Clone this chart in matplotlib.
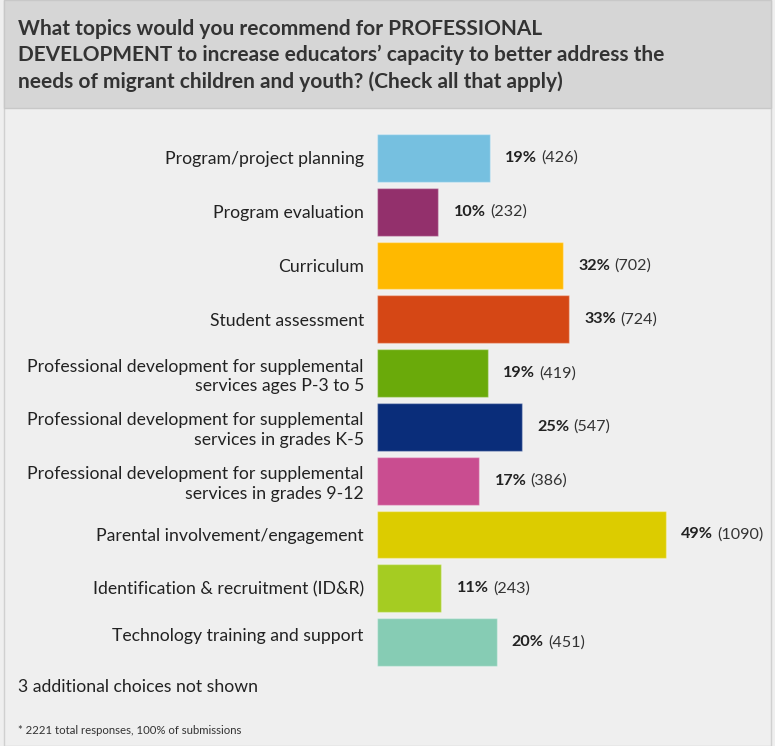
import matplotlib.pyplot as plt
from matplotlib.patches import Rectangle

categories = [
    "Program/project planning",
    "Program evaluation",
    "Curriculum",
    "Student assessment",
    "Professional development for supplemental\nservices ages P-3 to 5",
    "Professional development for supplemental\nservices in grades K-5",
    "Professional development for supplemental\nservices in grades 9-12",
    "Parental involvement/engagement",
    "Identification & recruitment (ID&R)",
    "Technology training and support\n ",
]
percents = [19, 10, 32, 33, 19, 25, 17, 49, 11, 20]
counts = [426, 232, 702, 724, 419, 547, 386, 1090, 243, 451]
colors = ["#76c0e0", "#93306c", "#ffb900", "#d54715", "#6aaa0a",
          "#0a2d7a", "#c94d90", "#dccc00", "#a5cc22", "#86ccb4"]

title = ("What topics would you recommend for PROFESSIONAL\n"
         "DEVELOPMENT to increase educators\u2019 capacity to better address the\n"
         "needs of migrant children and youth? (Check all that apply)")

W, H = 775, 746
plt.rcParams['font.family'] = ['Lato', 'DejaVu Sans']
fig = plt.figure(figsize=(W / 100, H / 100), dpi=100)
fig.patch.set_facecolor("#efefef")

# header box and frame
fig.patches.append(Rectangle((4 / W, 0), (W - 8) / W, 1, transform=fig.transFigure,
                             facecolor="#efefef", edgecolor="#d0d0d0", lw=1, zorder=-2))
fig.patches.append(Rectangle((4 / W, 1 - 108 / H), (W - 8) / W, 108 / H,
                             transform=fig.transFigure, facecolor="#d6d6d6",
                             edgecolor="#c8c8c8", lw=1, zorder=-1))
fig.text(18 / W, 1 - 19 / H, title, fontsize=15, fontweight="bold", color="#333333",
         va="top", ha="left", linespacing=1.38)

# axes in pixel layout
left, right = 377, 748
top, bottom = 131, 669
ax = fig.add_axes([left / W, 1 - bottom / H, (right - left) / W, (bottom - top) / H])
ax.set_zorder(3)
ax.set_facecolor("none")
scale = 0.265  # px per response
ax.set_xlim(0, (right - left) / scale)
ax.set_ylim(len(categories) - 0.5, -0.5)

y = list(range(len(categories)))
ax.barh(y, counts, height=0.89, color=colors, edgecolor=(1, 1, 1, 0.35), linewidth=1)
ax.set_yticks(y)
ax.set_yticklabels(categories, fontsize=12.7, color="#222222", linespacing=1.3)
ax.tick_params(axis="y", length=0, pad=9.5)
ax.set_xticks([])
for s in ax.spines.values():
    s.set_visible(False)

fig.canvas.draw()
renderer = fig.canvas.get_renderer()
for yi, c, p in zip(y, counts, percents):
    t = ax.annotate(f"{p}%", (c, yi), xytext=(11, 0), textcoords="offset points",
                    fontsize=11.6, fontweight="bold", color="#222222", va="center")
    bb = t.get_window_extent(renderer)
    ax.annotate(f"({c})", (c, yi), xytext=(11 + bb.width * 72 / 100 + 3, 0),
                textcoords="offset points", fontsize=11.6, color="#333333", va="center")

fig.text(18 / W, 1 - 687 / H, "3 additional choices not shown", fontsize=12.7,
         color="#222222", va="center", ha="left")
fig.text(18 / W, 1 - 730 / H, "* 2221 total responses, 100% of submissions", fontsize=8.2,
         color="#333333", va="center", ha="left")

fig.savefig("out.png", dpi=100, facecolor=fig.get_facecolor())
